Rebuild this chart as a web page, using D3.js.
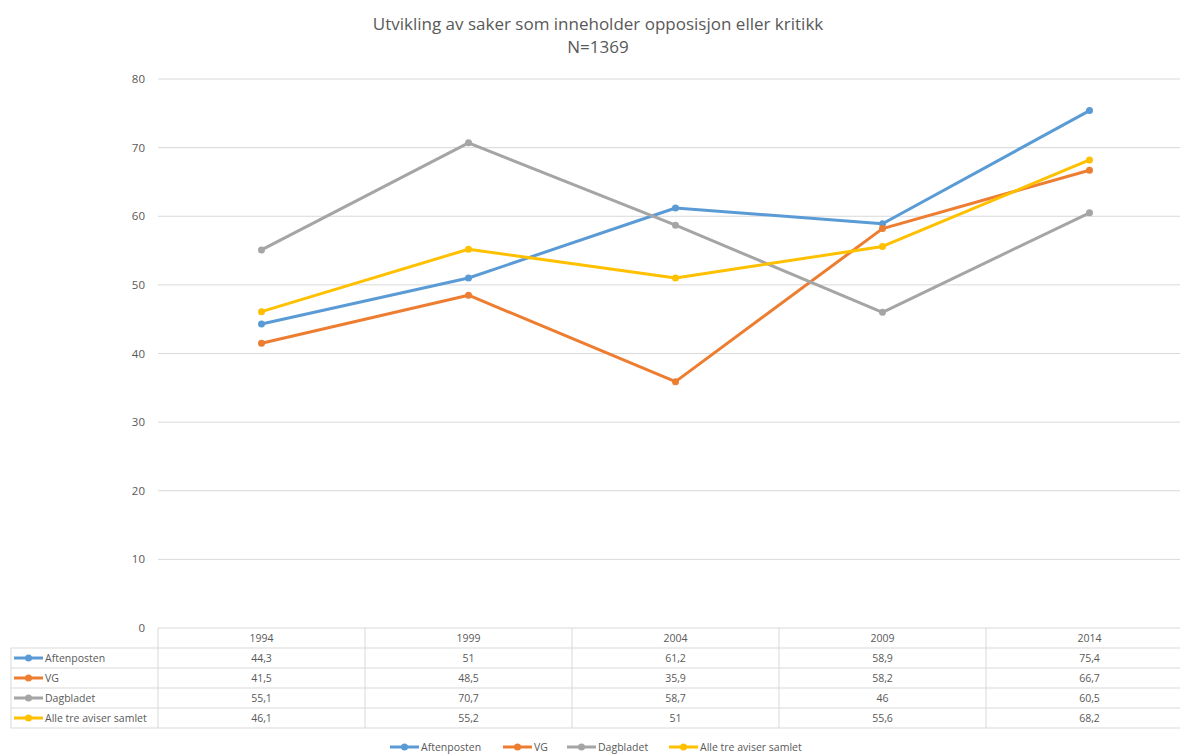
<!DOCTYPE html>
<html>
<head>
<meta charset="utf-8">
<script src="https://cdn.jsdelivr.net/npm/d3@7"></script>
<style>
  body { margin: 0; background: #fff; overflow: hidden; }
  svg { display: block; }
</style>
</head>
<body>
<div id="chart"></div>
<script>
// data
const years = ["1994", "1999", "2004", "2009", "2014"];
const seriesNames = ["Aftenposten", "VG", "Dagbladet", "Alle tre aviser samlet"];
const aftenposten = [44.3, 51, 61.2, 58.9, 75.4];
const vg = [41.5, 48.5, 35.9, 58.2, 66.7];
const dagbladet = [55.1, 70.7, 58.7, 46, 60.5];
const alleTre = [46.1, 55.2, 51, 55.6, 68.2];
const yTicks = [0, 10, 20, 30, 40, 50, 60, 70, 80];
const colors = ["#5b9bd5", "#ed7d31", "#a5a5a5", "#ffc000"];

const allSeries = [aftenposten, vg, dagbladet, alleTre];

const width = 1180, height = 754;
const fontFam = "'Open Sans', 'Liberation Sans', sans-serif";

const svg = d3.select("#chart").append("svg")
    .attr("width", width)
    .attr("height", height)
    .style("font-family", fontFam);

// plot area (runs a bit past the right edge, like the original)
const plotLeft = 158, plotRight = 1193, plotTop = 79, plotBottom = 628;

const x = d3.scaleBand().domain(years).range([plotLeft, plotRight]);
const y = d3.scaleLinear().domain([0, 80]).range([plotBottom, plotTop]);

// title
svg.append("text")
    .attr("x", 598).attr("y", 30)
    .attr("text-anchor", "middle")
    .attr("font-size", 17).attr("fill", "#595959")
    .text("Utvikling av saker som inneholder opposisjon eller kritikk");
svg.append("text")
    .attr("x", 598).attr("y", 53)
    .attr("text-anchor", "middle")
    .attr("font-size", 17).attr("fill", "#595959")
    .text("N=1369");

// gridlines
svg.append("g").selectAll("line")
    .data(yTicks.filter(d => d > 0))
    .join("line")
    .attr("x1", plotLeft).attr("x2", plotRight)
    .attr("y1", d => y(d)).attr("y2", d => y(d))
    .attr("stroke", "#d9d9d9").attr("stroke-width", 1);

// y axis labels
svg.append("g").selectAll("text")
    .data(yTicks)
    .join("text")
    .attr("x", 145)
    .attr("y", d => y(d) + 4)
    .attr("text-anchor", "end")
    .attr("font-size", 11.5).attr("fill", "#595959")
    .text(d => d);

// lines
const line = d3.line()
    .x((d, i) => x(years[i]) + x.bandwidth() / 2)
    .y(d => y(d));

allSeries.forEach((s, k) => {
  svg.append("path")
      .datum(s)
      .attr("d", line)
      .attr("fill", "none")
      .attr("stroke", colors[k])
      .attr("stroke-width", 3)
      .attr("stroke-linejoin", "round")
      .attr("stroke-linecap", "round");
  svg.append("g").selectAll("circle")
      .data(s)
      .join("circle")
      .attr("cx", (d, i) => x(years[i]) + x.bandwidth() / 2)
      .attr("cy", d => y(d))
      .attr("r", 3.5)
      .attr("fill", colors[k]);
});

// data table
const tableLeft = 11, rowH = 20;
const gridCol = "#d9d9d9";
const tbl = svg.append("g");

tbl.append("line")
    .attr("x1", plotLeft).attr("x2", plotRight)
    .attr("y1", plotBottom).attr("y2", plotBottom)
    .attr("stroke", gridCol);
d3.range(1, seriesNames.length + 2).forEach(r => {
  tbl.append("line")
      .attr("x1", tableLeft).attr("x2", plotRight)
      .attr("y1", plotBottom + r * rowH).attr("y2", plotBottom + r * rowH)
      .attr("stroke", gridCol);
});
tbl.append("line")
    .attr("x1", tableLeft).attr("x2", tableLeft)
    .attr("y1", plotBottom + rowH).attr("y2", plotBottom + rowH * 5)
    .attr("stroke", gridCol);
years.forEach(yr => {
  tbl.append("line")
      .attr("x1", x(yr)).attr("x2", x(yr))
      .attr("y1", plotBottom).attr("y2", plotBottom + rowH * 5)
      .attr("stroke", gridCol);
});

tbl.selectAll("text.yr")
    .data(years)
    .join("text")
    .attr("class", "yr")
    .attr("x", d => x(d) + x.bandwidth() / 2)
    .attr("y", plotBottom + 14)
    .attr("text-anchor", "middle")
    .attr("font-size", 10.5).attr("fill", "#595959")
    .text(d => d);

seriesNames.forEach((name, k) => {
  const ry = plotBottom + rowH * (k + 1);
  tbl.append("line")
      .attr("x1", 14).attr("x2", 43)
      .attr("y1", ry + 10).attr("y2", ry + 10)
      .attr("stroke", colors[k]).attr("stroke-width", 3);
  tbl.append("circle")
      .attr("cx", 28.5).attr("cy", ry + 10).attr("r", 3.5)
      .attr("fill", colors[k]);
  tbl.append("text")
      .attr("x", 45).attr("y", ry + 14)
      .attr("font-size", 10.5).attr("fill", "#595959")
      .text(name);
  tbl.append("g").selectAll("text")
      .data(allSeries[k])
      .join("text")
      .attr("x", (d, i) => x(years[i]) + x.bandwidth() / 2)
      .attr("y", ry + 14)
      .attr("text-anchor", "middle")
      .attr("font-size", 10.5).attr("fill", "#595959")
      .text(d => String(d).replace(".", ","));
});

// bottom legend
const legendX = [390, 503, 567, 669];
const leg = svg.append("g");
seriesNames.forEach((name, k) => {
  const lx = legendX[k], ly = 747;
  leg.append("line")
      .attr("x1", lx).attr("x2", lx + 29)
      .attr("y1", ly).attr("y2", ly)
      .attr("stroke", colors[k]).attr("stroke-width", 3);
  leg.append("circle")
      .attr("cx", lx + 14.5).attr("cy", ly).attr("r", 3.5)
      .attr("fill", colors[k]);
  leg.append("text")
      .attr("x", lx + 31).attr("y", ly + 4)
      .attr("font-size", 10.5).attr("fill", "#595959")
      .text(name);
});
</script>
</body>
</html>
